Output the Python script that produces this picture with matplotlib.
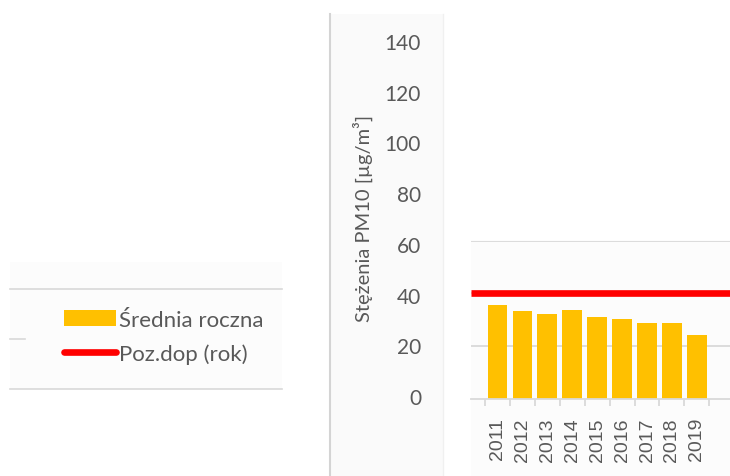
import matplotlib
matplotlib.use("Agg")
import matplotlib.pyplot as plt
from matplotlib.patches import Rectangle
from matplotlib.lines import Line2D

# ---- data ----
years = ["2011", "2012", "2013", "2014", "2015", "2016", "2017", "2018", "2019"]
annual_mean = [35.5, 33.2, 32.0, 33.7, 31.2, 30.1, 28.9, 28.9, 24.4]
limit_value = 40
ytick_values = [0, 20, 40, 60, 80, 100, 120, 140]
series_names = ["Średnia roczna", "Poz.dop (rok)"]
ylabel_text = "Stężenia PM10 [µg/m³]"

BAR_COLOR = "#FFC000"
LINE_COLOR = "#FF0000"
GRID = "#D9D9D9"
TEXT = "#595959"

W, H = 730, 477
fig = plt.figure(figsize=(W / 100, H / 100), dpi=100)
fig.patch.set_facecolor("white")


def fx(x):
    return x / W


def fy(y):
    return 1 - y / H


def add_rect(x0, y0, x1, y1, color, z=-5):
    fig.patches.append(Rectangle((fx(x0), fy(y1)), fx(x1) - fx(x0), fy(y0) - fy(y1),
                                 transform=fig.transFigure, facecolor=color,
                                 edgecolor="none", zorder=z))


def add_line(x0, y0, x1, y1, color=GRID, lw=1.2, z=-4):
    fig.lines.append(Line2D([fx(x0), fx(x1)], [fy(y0), fy(y1)], transform=fig.transFigure,
                            color=color, lw=lw, zorder=z))


# ---- background panels (collage look) ----
add_rect(10, 263, 282, 390, "#FCFCFC")
add_line(10, 290, 282, 290)
add_line(10, 390, 282, 390)
add_line(10, 340, 25, 340)

add_rect(330, 15, 443, 477, "#FAFAFA")
add_line(330, 15, 330, 477, color="#D4D4D4", lw=1.5)
add_line(443, 15, 443, 477, color="#F0F0F0", lw=1.0)

add_rect(471, 241, 730, 477, "#FCFCFC")

# ---- y tick label column ----
top_px, bot_px = 15, 477
ax_t = fig.add_axes([fx(428), fy(bot_px), fx(443) - fx(428), fy(top_px) - fy(bot_px)])
ax_t.set_facecolor("none")
for s in ax_t.spines.values():
    s.set_visible(False)
frac0 = (bot_px - 397) / (bot_px - top_px)
frac140 = (bot_px - 42) / (bot_px - top_px)
span = 140 / (frac140 - frac0)
ax_t.set_ylim(-frac0 * span, -frac0 * span + span)
ax_t.set_yticks(ytick_values)
ax_t.set_yticklabels([str(v) for v in ytick_values], family=["Lato", "DejaVu Sans"],
                     fontsize=15, color=TEXT)
ax_t.tick_params(axis="y", length=0, pad=5)
ax_t.set_xticks([])

fig.text(fx(363), fy(218), ylabel_text, rotation=90, ha="center", va="center",
         fontsize=14.5, color=TEXT, family=["Lato", "DejaVu Sans"])

# ---- bar chart ----
ax = fig.add_axes([fx(471), fy(400), 1 - fx(471), fy(241.5) - fy(400)])
ax.set_facecolor("none")
x = list(range(len(years)))
bars = ax.bar(x, annual_mean, width=0.79, color=BAR_COLOR, zorder=2, label=series_names[0])
lim_line = ax.axhline(limit_value, color=LINE_COLOR, lw=4.8, zorder=3, label=series_names[1],
                      solid_capstyle="butt")

step = 24.92
c0 = 497.5
ax.set_xlim((471 - c0) / step, (730 - c0) / step)
ax.set_ylim(0, 60)
ax.set_yticks([20, 40, 60])
ax.yaxis.grid(True, color=GRID, lw=1.3, zorder=0)
ax.set_axisbelow(True)
ax.tick_params(axis="y", length=0, labelleft=False)
for side in ["top", "right", "left"]:
    ax.spines[side].set_visible(False)
ax.spines["bottom"].set_color(GRID)
ax.spines["bottom"].set_linewidth(1.3)

ax.set_xticks(x)
ax.set_xticklabels(years, rotation=90, fontsize=14, color=TEXT,
                   family=["Liberation Sans", "DejaVu Sans"])
ax.tick_params(axis="x", which="major", length=0, pad=13)
ax.set_xticks([i - 0.5 for i in range(len(years) + 1)], minor=True)
ax.tick_params(axis="x", which="minor", length=5, width=1.3, color=GRID, direction="out")

# ---- legend ----
leg = fig.legend(handles=[bars, lim_line], labels=series_names,
                 loc="center left", bbox_to_anchor=(fx(64), fy(338)),
                 frameon=False, handlelength=2.34, handleheight=0.7,
                 handletextpad=0.12, labelspacing=0.62, borderpad=0, borderaxespad=0,
                 prop={"family": ["Lato", "DejaVu Sans"], "size": 16})
for t in leg.get_texts():
    t.set_color(TEXT)
for h in leg.legend_handles:
    if isinstance(h, Line2D):
        h.set_solid_capstyle("round")

fig.savefig("out.png", dpi=100)
